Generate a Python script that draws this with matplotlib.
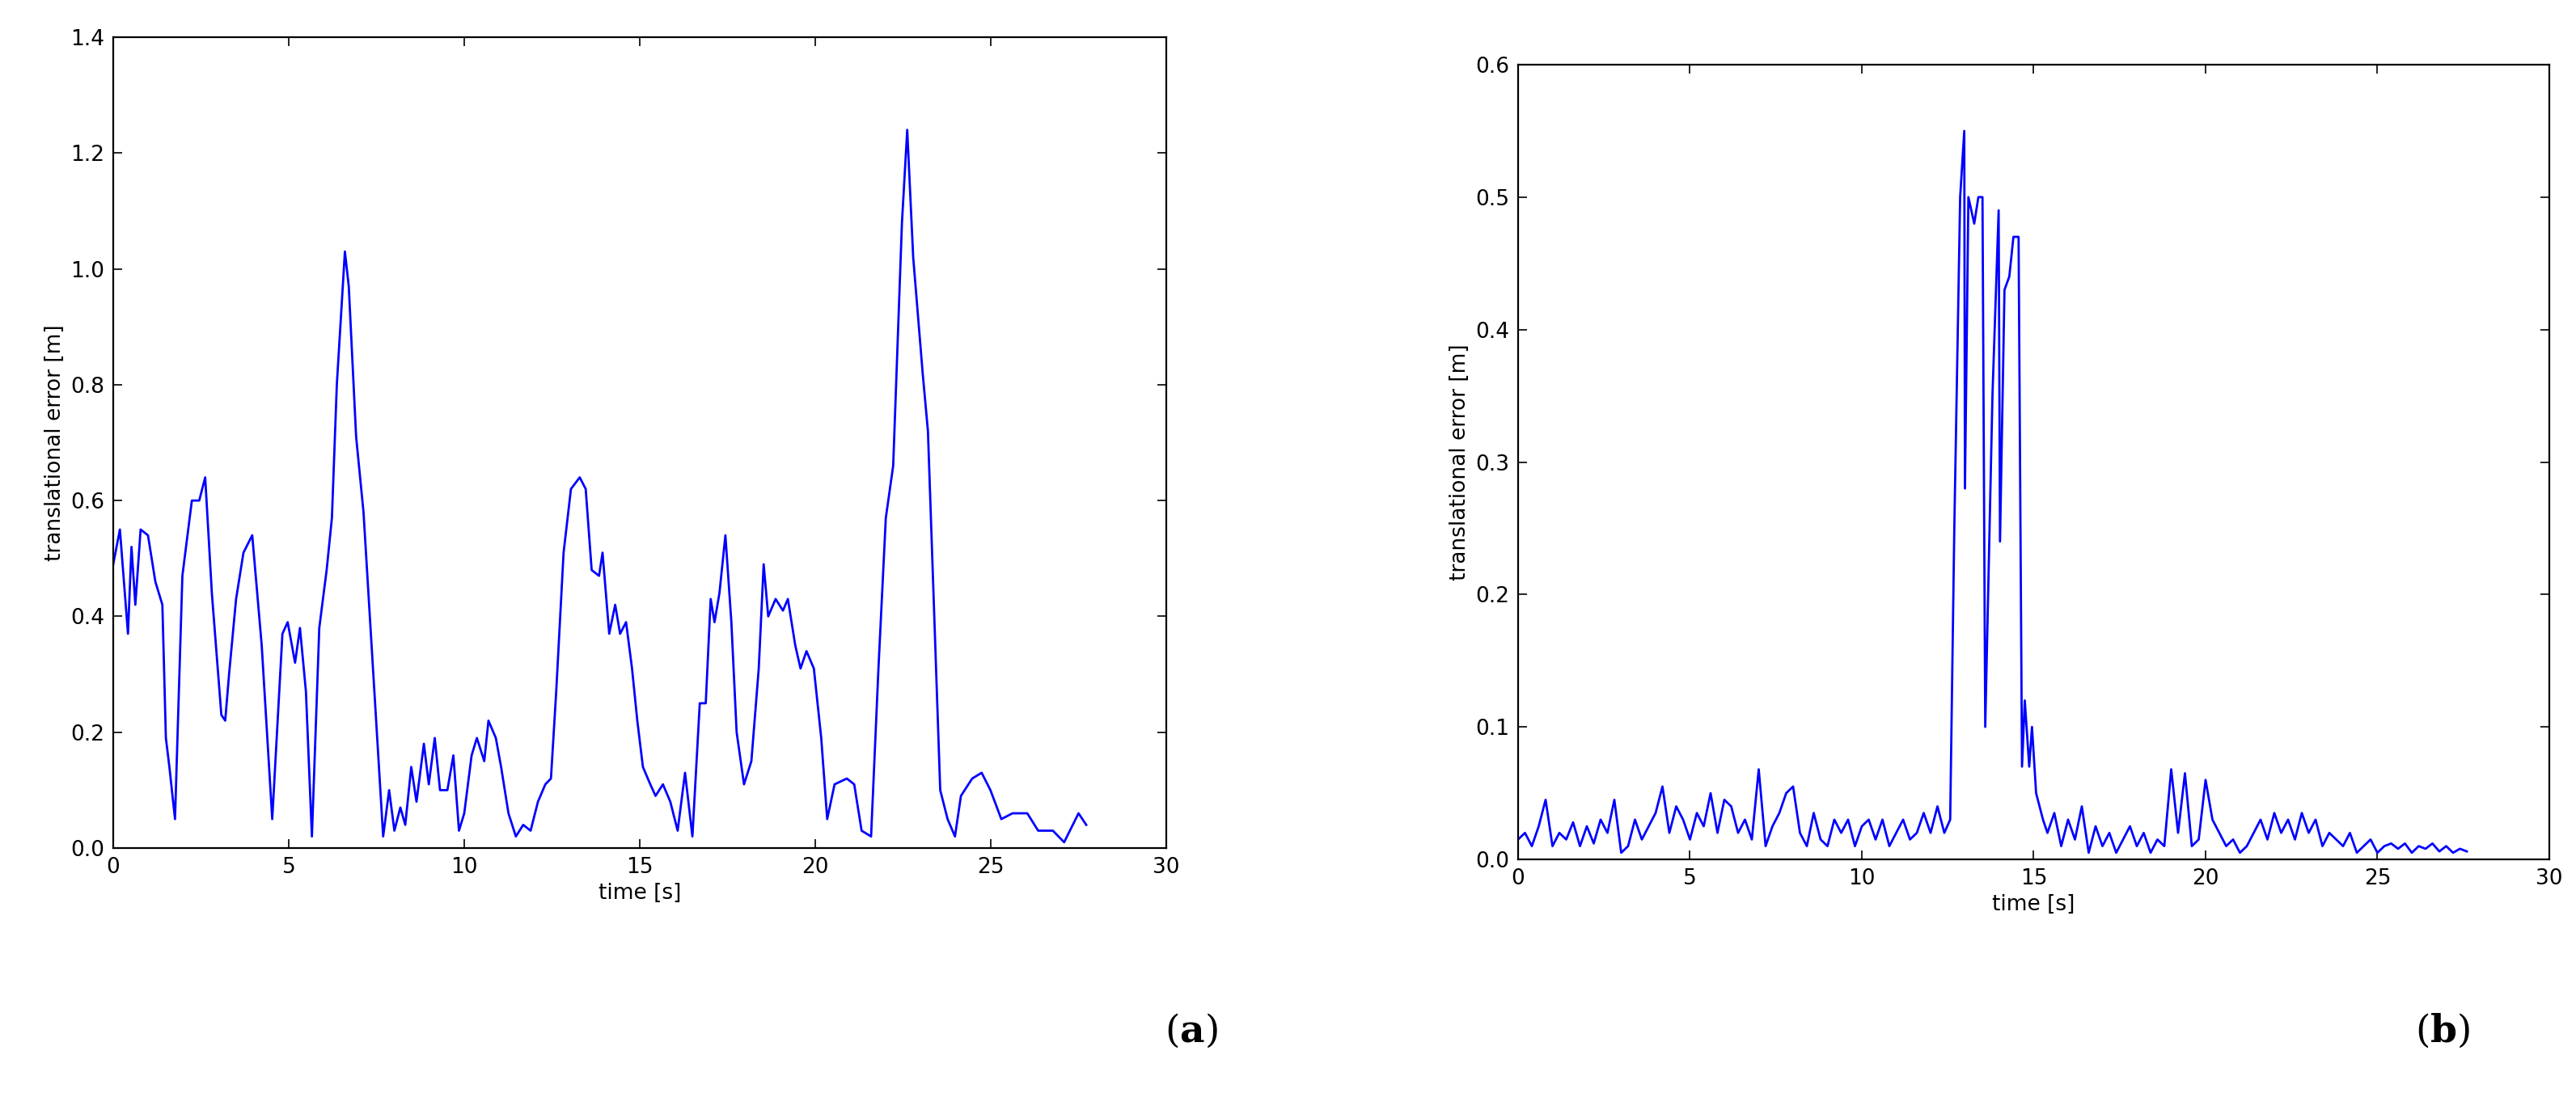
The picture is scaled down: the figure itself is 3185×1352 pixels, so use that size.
import numpy as np
import matplotlib.pyplot as plt

plt.rcParams['mathtext.fontset'] = 'dejavuserif'

# (a) translational error
t_a = [0, 0.19, 0.42, 0.52, 0.63, 0.78, 0.99, 1.2, 1.4, 1.5, 1.6, 1.76, 1.97, 2.24, 2.45, 2.62,
       2.81, 3.08, 3.19, 3.3, 3.5, 3.71, 3.96, 4.23, 4.53, 4.82, 4.97, 5.18, 5.32, 5.49, 5.66,
       5.87, 6.08, 6.23, 6.37, 6.6, 6.71, 6.92, 7.13, 7.38, 7.69, 7.86, 8.01, 8.18, 8.32, 8.49,
       8.64, 8.85, 8.99, 9.16, 9.31, 9.52, 9.69, 9.85, 10.0, 10.21, 10.36, 10.57, 10.69, 10.9,
       11.05, 11.26, 11.47, 11.68, 11.89, 12.1, 12.31, 12.47, 12.62, 12.83, 13.04, 13.29, 13.46,
       13.63, 13.84, 13.94, 14.13, 14.3, 14.44, 14.61, 14.78, 14.93, 15.09, 15.3, 15.45, 15.66,
       15.87, 16.08, 16.29, 16.5, 16.71, 16.88, 17.02, 17.13, 17.27, 17.44, 17.61, 17.76, 17.97,
       18.18, 18.39, 18.53, 18.66, 18.87, 19.08, 19.22, 19.43, 19.58, 19.75, 19.96, 20.17, 20.34,
       20.55, 20.9, 21.11, 21.32, 21.59, 21.8, 22.01, 22.22, 22.47, 22.62, 22.79, 23.06, 23.21,
       23.42, 23.56, 23.77, 23.98, 24.15, 24.47, 24.74, 24.99, 25.3, 25.62, 26.04, 26.35, 26.77,
       27.09, 27.5, 27.72]
err_a = [0.49, 0.55, 0.37, 0.52, 0.42, 0.55, 0.54, 0.46, 0.42, 0.19, 0.14, 0.05, 0.47, 0.6, 0.6, 0.64,
         0.44, 0.23, 0.22, 0.3, 0.43, 0.51, 0.54, 0.35, 0.05, 0.37, 0.39, 0.32, 0.38, 0.27, 0.02,
         0.38, 0.48, 0.57, 0.8, 1.03, 0.97, 0.71, 0.58, 0.33, 0.02, 0.1, 0.03, 0.07, 0.04, 0.14,
         0.08, 0.18, 0.11, 0.19, 0.1, 0.1, 0.16, 0.03, 0.06, 0.16, 0.19, 0.15, 0.22, 0.19,
         0.14, 0.06, 0.02, 0.04, 0.03, 0.08, 0.11, 0.12, 0.27, 0.51, 0.62, 0.64, 0.62,
         0.48, 0.47, 0.51, 0.37, 0.42, 0.37, 0.39, 0.31, 0.22, 0.14, 0.11, 0.09, 0.11,
         0.08, 0.03, 0.13, 0.02, 0.25, 0.25, 0.43, 0.39, 0.44, 0.54, 0.39, 0.2, 0.11,
         0.15, 0.31, 0.49, 0.4, 0.43, 0.41, 0.43, 0.35, 0.31, 0.34, 0.31, 0.19, 0.05,
         0.11, 0.12, 0.11, 0.03, 0.02, 0.31, 0.57, 0.66, 1.08, 1.24, 1.02, 0.82, 0.72,
         0.35, 0.1, 0.05, 0.02, 0.09, 0.12, 0.13, 0.1, 0.05, 0.06, 0.06, 0.03, 0.03,
         0.01, 0.06, 0.04]

# (b) noise before the spike, sampled every 0.2 s
pre_b = [0.015, 0.02, 0.01, 0.025, 0.045, 0.01, 0.02, 0.015, 0.028, 0.01, 0.025, 0.012, 0.03, 0.02,
         0.045, 0.005, 0.01, 0.03, 0.015, 0.025, 0.035, 0.055, 0.02, 0.04, 0.03, 0.015, 0.035, 0.025,
         0.05, 0.02, 0.045, 0.04, 0.02, 0.03, 0.015, 0.068, 0.01, 0.025, 0.035, 0.05, 0.055, 0.02,
         0.01, 0.035, 0.015, 0.01, 0.03, 0.02, 0.03, 0.01, 0.025, 0.03, 0.015, 0.03, 0.01, 0.02,
         0.03, 0.015, 0.02, 0.035, 0.02, 0.04, 0.02]
# spike section
t_spike = [12.57, 12.69, 12.86, 12.98, 13.0, 13.1, 13.27, 13.39, 13.51, 13.59, 13.8, 13.98, 14.02,
           14.15, 14.29, 14.41, 14.56, 14.66, 14.74, 14.87, 14.95, 15.07, 15.27]
spike_b = [0.03, 0.25, 0.5, 0.55, 0.28, 0.5, 0.48, 0.5, 0.5, 0.1, 0.35, 0.49, 0.24,
           0.43, 0.44, 0.47, 0.47, 0.07, 0.12, 0.07, 0.1, 0.05, 0.03]
# noise after the spike, every 0.2 s from 15.4 s
post_b = [0.02, 0.035, 0.01, 0.03, 0.015, 0.04, 0.005, 0.025, 0.01, 0.02, 0.005, 0.015, 0.025, 0.01,
          0.02, 0.005, 0.015, 0.01, 0.068, 0.02, 0.065, 0.01, 0.015, 0.06, 0.03, 0.02, 0.01, 0.015,
          0.005, 0.01, 0.02, 0.03, 0.015, 0.035, 0.02, 0.03, 0.015, 0.035, 0.02, 0.03, 0.01, 0.02,
          0.015, 0.01, 0.02, 0.005, 0.01, 0.015, 0.005, 0.01, 0.012, 0.008, 0.012, 0.005, 0.01,
          0.008, 0.012, 0.006, 0.01, 0.005, 0.008, 0.006]

t_pre = np.round(np.arange(len(pre_b)) * 0.2, 2)
t_post = np.round(15.4 + np.arange(len(post_b)) * 0.2, 2)
t_b = np.concatenate([t_pre, t_spike, t_post])
err_b = np.concatenate([pre_b, spike_b, post_b])

W, H = 3185, 1352
fig = plt.figure(figsize=(W / 100, H / 100), dpi=100)
ax1 = fig.add_axes([140 / W, 1 - 1049 / H, (1442 - 140) / W, (1049 - 46) / H])
ax2 = fig.add_axes([1877 / W, 1 - 1063 / H, (3152 - 1877) / W, (1063 - 80) / H])

for ax, t, e, ymax, step in [(ax1, t_a, err_a, 1.4, 0.2), (ax2, t_b, err_b, 0.6, 0.1)]:
    ax.plot(t, e, color='#0000ff', lw=2.0)
    ax.set_xlim(0, 30)
    ax.set_ylim(0, ymax)
    ax.set_xticks(range(0, 31, 5))
    ax.set_yticks(np.round(np.arange(0, ymax + 1e-9, step), 1))
    ax.tick_params(direction='in', top=True, right=True, length=8, width=1.2, labelsize=19, pad=8)
    for s in ax.spines.values():
        s.set_linewidth(1.6)
    ax.set_xlabel('time [s]', fontsize=19)
    ax.set_ylabel('translational error [m]', fontsize=19)

fig.text(1473 / W, 1 - 1275 / H, r'($\mathbf{a}$)', fontsize=34, family='DejaVu Serif', ha='center', va='center')
fig.text(3020 / W, 1 - 1275 / H, r'($\mathbf{b}$)', fontsize=34, family='DejaVu Serif', ha='center', va='center')

fig.savefig('out.png', dpi=100, facecolor='white')
